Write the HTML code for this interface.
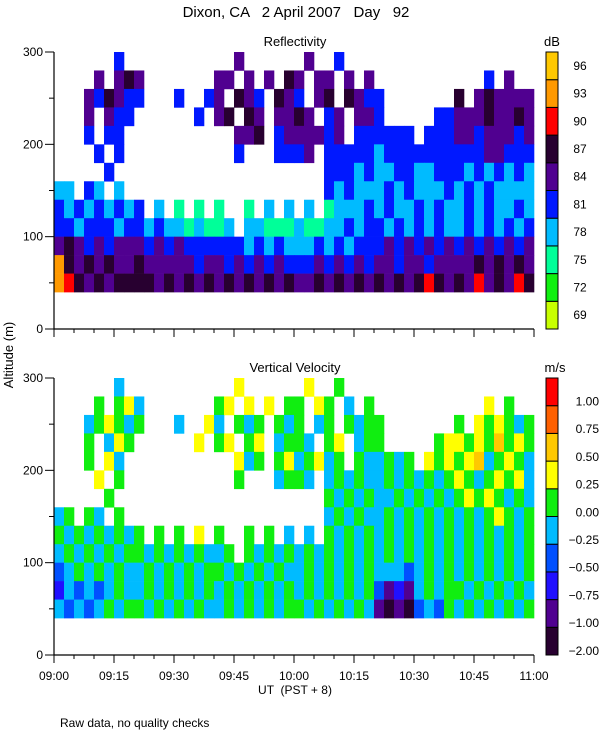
<!DOCTYPE html>
<html><head><meta charset="utf-8"><style>
html,body{margin:0;padding:0;background:#fff;}
svg{display:block;font-family:"Liberation Sans",sans-serif;}
</style></head><body>
<svg id="chart" width="600" height="750" viewBox="0 0 600 750" xmlns="http://www.w3.org/2000/svg">
<rect width="600" height="750" fill="#fff"/>
<text x="296" y="17" font-size="15" text-anchor="middle" xml:space="preserve">Dixon, CA   2 April 2007   Day   92</text>
<text x="295" y="46" font-size="13" text-anchor="middle">Reflectivity</text>
<text x="295" y="372" font-size="13" text-anchor="middle">Vertical Velocity</text>
<text x="552" y="46" font-size="13" text-anchor="middle">dB</text>
<text x="555" y="372" font-size="13" text-anchor="middle">m/s</text>
<text x="0" y="0" font-size="13" text-anchor="middle" transform="translate(13,355) rotate(-90)">Altitude (m)</text>
<text x="295" y="694" font-size="12" text-anchor="middle" xml:space="preserve">UT  (PST + 8)</text>
<text x="60" y="727" font-size="12">Raw data, no quality checks</text>
<g id="layer"></g>
</svg>
<script>
// data
const timeTicks = ["09:00","09:15","09:30","09:45","10:00","10:15","10:30","10:45","11:00"];
const altTicks = [0,100,200,300];
const gateBottoms = [40,60,80,100,120,140,160,180,200,220,240,260,280]; // m
const dbLabels = ["69","72","75","78","81","84","87","90","93","96"];
const velLabels = ["-2.00","-1.00","-0.75","-0.50","-0.25","0.00","0.25","0.50","0.75","1.00"];
const dbColors = ["#c8ff00","#10f010","#00ff99","#00bbff","#0018ff","#500090","#280030","#ff0000","#ff9900","#ffc800"];
const velColors = ["#280030","#500090","#2010ff","#0050ff","#00bbff","#10ee10","#ffff00","#ffc800","#ff6000","#ff0000"];
// reflectivity level per gate (top gate first), 48 time bins of 2.5 min
const reflRows = [
"......4."+"........"+"..5....."+".5..4..."+"........"+"........",
"....5.56"+"5......."+"55.5.5.6"+"5.55.5.5"+"........"+"...4.5..",
"...54654"+"4...4..4"+"5.654.65"+"4.56.654"+"4......."+"6.565555",
"...5.544"+"......4."+"56.65.55"+"65.45.55"+"4.....44"+"55565565",
"...4.44."+"........"+"..556.45"+"55545.44"+"4444.444"+"55455545",
"....4.4."+"........"+"..4...44"+"45.44444"+"34444444"+"44455444",
".....4.."+"........"+"........"+"...44434"+"33443344"+"43434343",
"33.43.3."+"........"+"........"+"...43433"+"34343334"+"34343333",
"43434343"+"4.3.2.2."+"2..2.3.3"+".3.23334"+"34334343"+"34343343",
"44344434"+"43433232"+"23.33222"+"32233434"+"43434343"+"34343434",
"56545455"+"54545444"+"44434343"+"33434344"+"45454545"+"45454545",
"86565655"+"65555545"+"54545454"+"44545454"+"55455455"+"55656565",
"87656566"+"66565656"+"56565656"+"55656565"+"65656765"+"65756576"
];
const velRows = [
"......4."+"........"+"..6....."+".6..5..."+"........"+"........",
"....5.56"+"4......."+"56.6.6.5"+"5.65.4.5"+"........"+"...6.5..",
"...45654"+"5...4..6"+"4.545.54"+"5.45.545"+"5......."+"5.656545",
"...5.465"+"......6."+"56.56.45"+"54.56.45"+"5.....56"+"65657565",
"...5.64."+"........"+"..645.56"+"45645.54"+"4545.656"+"56745654",
"....6.5."+"........"+"..5...45"+"54.45454"+"45454545"+"65456564",
".....5.."+"........"+"........"+"...54545"+"44545454"+"56565454",
"45.54.5."+"........"+"........"+"...45454"+"45454545"+"45456545",
"54545454"+"5.5.5.6."+"5..5.5.4"+".4.54545"+"45454545"+"45454545",
"45454545"+"54545454"+"45.54545"+"45454545"+"45454545"+"45454545",
"34545454"+"45454545"+"54545454"+"45454545"+"44434545"+"45454545",
"24343454"+"45454545"+"45454545"+"45454545"+"31214545"+"54545454",
"43434545"+"54545454"+"45454545"+"54545454"+"10103435"+"45454545"
];
const binMinutes = 2.5, gateHeight = 20;

const NS="http://www.w3.org/2000/svg";
const layer=document.getElementById('layer');
function mk(tag,attrs,parent){const e=document.createElementNS(NS,tag);for(const k in attrs)e.setAttribute(k,attrs[k]);(parent||layer).appendChild(e);return e;}
const X0=54,X1=534;
function xScale(min){return X0+(X1-X0)*min/120;}

function panel(name,yTop,rows,colors,labels,showX,labelAnchor,labelX,labelOff){
  const yB=yTop+277;
  const yScale=a=>yB-(yB-yTop)*a/300;
  const g=mk('g',{});
  
  
  const n=rows.length;
  rows.forEach((row,ri)=>{
    const gate=gateBottoms[n-1-ri];
    for(let c=0;c<row.length;c++){
      const ch=row[c]; if(ch==='.')continue;
      const x0=xScale(c*binMinutes),x1=xScale((c+1)*binMinutes);
      const r=mk('rect',{x:x0,y:yScale(gate+gateHeight),width:x1-x0+0.3,height:yScale(gate)-yScale(gate+gateHeight)+0.3,fill:colors[+ch]},g);
      
      
    }
  });
  const ax=mk('path',{d:`M${X0},${yTop}V${yB}H${X1}`,stroke:'#000','stroke-width':1.2,fill:'none'},g);
  
  
  for(let a=0;a<=300;a+=50){
    const major=a%100===0;
    mk('line',{x1:X0-(major?9:5),x2:X0,y1:yScale(a),y2:yScale(a),stroke:'#000'},g);
  }
  altTicks.forEach(a=>{
    const t=mk('text',{x:X0-11,y:yScale(a)+4,'font-size':12,'text-anchor':'end'},g);
    t.textContent=a;
    
    
  });
  for(let m=0;m<=120;m+=5){
    const major=m%15===0;
    mk('line',{x1:xScale(m),x2:xScale(m),y1:yB,y2:yB+(major?8:4),stroke:'#000'},g);
  }
  if(showX){
    timeTicks.forEach((lab,i)=>{
      const t=mk('text',{x:xScale(i*15),y:yB+25,'font-size':12,'text-anchor':'middle'},g);
      t.textContent=lab;
      
      
    });
  }
  const cb=mk('g',{},g);
  
  
  const bh=(yB-yTop)/colors.length;
  colors.forEach((col,i)=>{
    const y=yB-(i+1)*bh;
    mk('rect',{x:546,y:y,width:12,height:bh,fill:col,stroke:'#000','stroke-width':1},cb);
    const t=mk('text',{x:labelX,y:y+bh*labelOff+4,'font-size':12,'text-anchor':labelAnchor},cb);
    t.textContent=labels[i].replace('-','\u2212');
    
    
  });
}
panel('reflectivity',52,reflRows,dbColors,dbLabels,false,'middle',580,0.5);
panel('velocity',378,velRows,velColors,velLabels,true,'end',599,0.85);
</script>
</body></html>
